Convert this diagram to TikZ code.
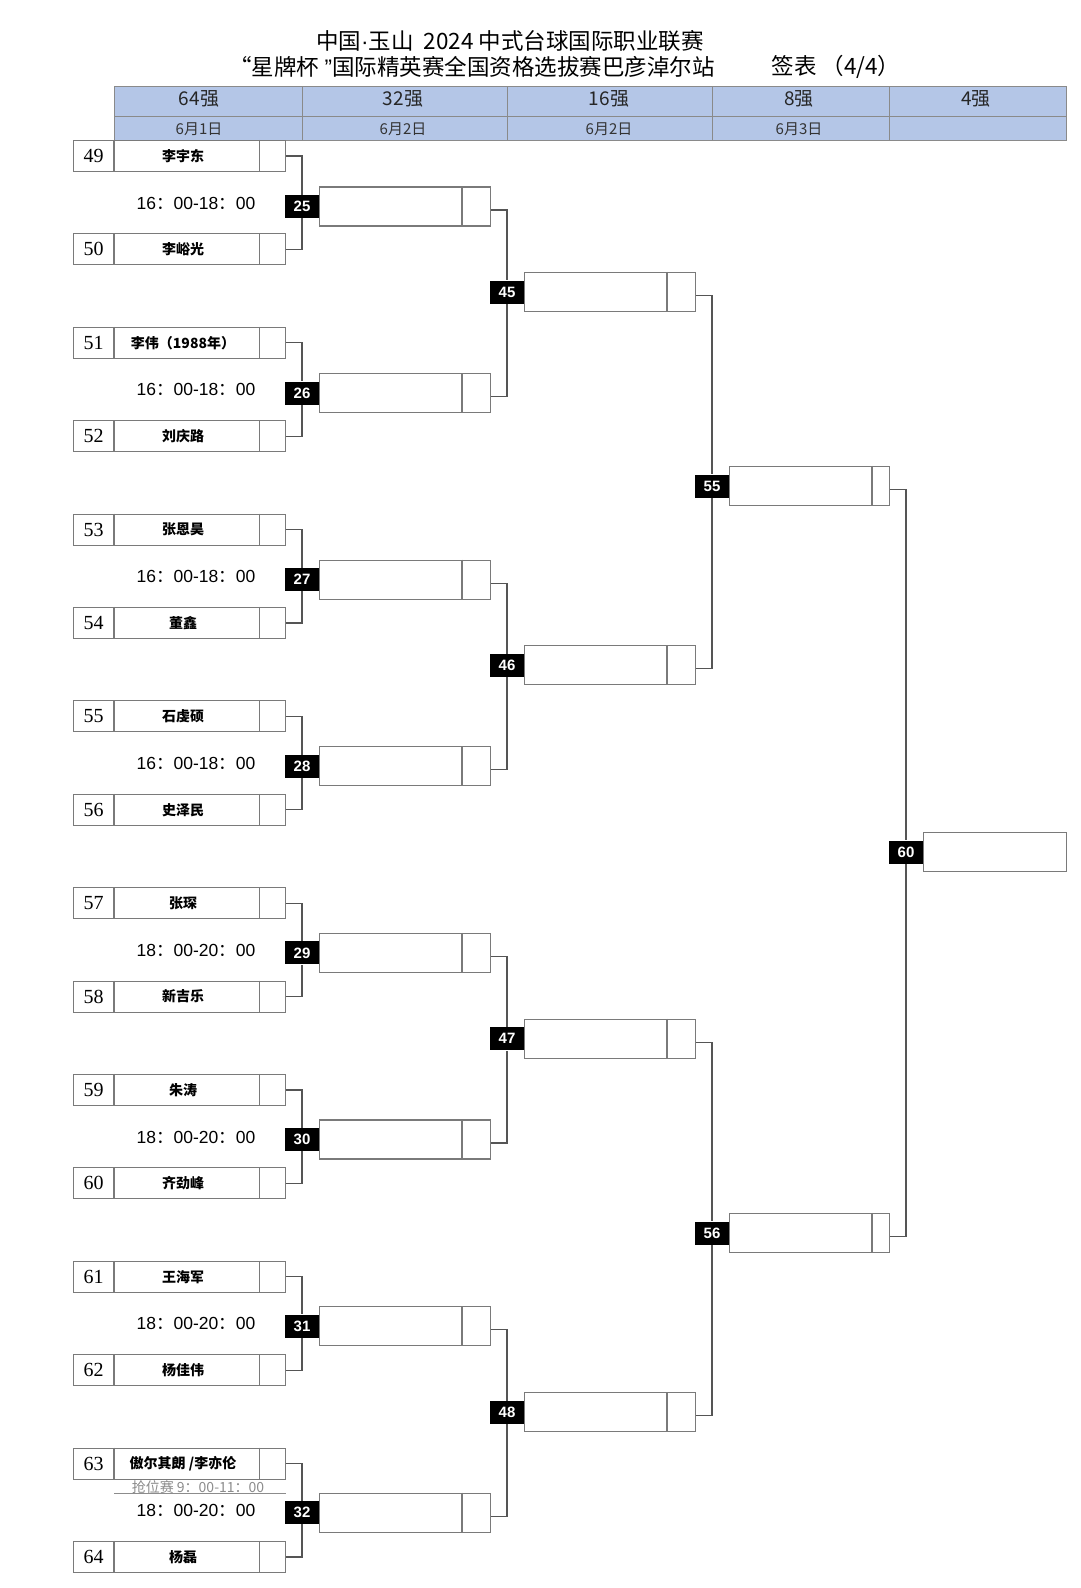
\documentclass[tikz,border=0pt]{standalone}
\usepackage{fontspec}
\setmainfont{Liberation Sans}
\newfontfamily\cjk{Noto Sans CJK SC}
\newfontfamily\numserif{Liberation Serif}
\newfontfamily\lat{Liberation Sans}
\usetikzlibrary{calc}
\definecolor{hdrblue}{HTML}{B4C6E7}
\definecolor{hdrline}{HTML}{8A8A8A}
\definecolor{boxline}{HTML}{7A7A7A}
\definecolor{connline}{HTML}{555555}
\definecolor{qwgray}{HTML}{8C8C8C}
\newcommand\fwc{{\cjk ：}}
\tikzset{
  slotbox/.style={draw=boxline, line width=1.1pt, minimum width=212pt, minimum height=31pt, inner sep=0pt, anchor=west},
  rbox/.style={draw=boxline, line width=1.1pt, minimum height=39pt, inner sep=0pt, anchor=west},
  divline/.style={draw=boxline, line width=1.1pt},
  conn/.style={draw=connline, line width=1.1pt},
  lbl/.style={fill=black, text=white, font=\bfseries\fontsize{15}{15}\selectfont, minimum width=34pt, minimum height=23pt, inner sep=0pt},
  numtxt/.style={font=\numserif\fontsize{20}{20}\selectfont, inner sep=0pt},
  nametxt/.style={font=\cjk\bfseries\fontsize{14}{14}\selectfont, inner sep=0pt},
  timetxt/.style={font=\fontsize{17.5}{17.5}\selectfont, inner sep=0pt},
  hdrtxt/.style={font=\cjk\fontsize{19}{19}\selectfont, text=black!85, inner sep=0pt},
  datetxt/.style={font=\cjk\fontsize{15}{15}\selectfont, text=black!80, inner sep=0pt},
  titletxt/.style={font=\cjk\fontsize{22.5}{22.5}\selectfont, inner sep=0pt}
}
\begin{document}
\begin{tikzpicture}[x=1pt,y=-1pt]
\useasboundingbox (0,0) rectangle (1080,1588);
\fill[white] (0,0) rectangle (1080,1588);

% title
\node[titletxt] (title1) at (510,40.5) {中国{\lat ·}玉山\ \ 2024 中式台球国际职业联赛};
\node[titletxt] (title2) at (472,67) {“星牌杯\ {\lat ”}国际精英赛全国资格选拔赛巴彦淖尔站};
\node[titletxt] (title3) at (836,67) {签表 （4/4）};

% header band
\fill[hdrblue] (114,86) rectangle (1066,140);
\draw[hdrline, line width=1pt] (114,86) rectangle (1066,140);
\draw[hdrline, line width=1pt] (114,116.5) -- (1066,116.5);
\foreach \xx in {302,507.5,712,889.5}{
  \draw[hdrline, line width=1pt] (\xx,86) -- (\xx,140);
}
\node[hdrtxt] (h64) at (199,99) {64强};
\node[hdrtxt] (h32) at (403,99) {32强};
\node[hdrtxt] (h16) at (609,99) {16强};
\node[hdrtxt] (h8) at (799,99) {8强};
\node[hdrtxt] (h4) at (976,99) {4强};
\node[datetxt] (d1) at (199,129.5) {6月1日};
\node[datetxt] (d2) at (403,129.5) {6月2日};
\node[datetxt] (d3) at (609,129.5) {6月2日};
\node[datetxt] (d4) at (799,129.5) {6月3日};

% first-round slots
\foreach \n/\nm [count=\i from 0] in {49/李宇东, 50/李峪光, 51/{李伟（1988年）}, 52/刘庆路, 53/张恩昊, 54/董鑫, 55/石虔硕, 56/史泽民, 57/张琛, 58/新吉乐, 59/朱涛, 60/齐劲峰, 61/王海军, 62/杨佳伟, 63/{傲尔其朗 /李亦伦}, 64/杨磊}{
  \pgfmathsetmacro\yy{156+93.4*\i}
  \node[slotbox] (s\n) at (73,\yy) {};
  \draw[divline] ($(s\n.north west)+(41,0)$) -- ($(s\n.south west)+(41,0)$);
  \draw[divline] ($(s\n.north east)+(-27,0)$) -- ($(s\n.south east)+(-27,0)$);
  \node[numtxt] (num\n) at (93.5,\yy) {\n};
  \node[nametxt] (nm\n) at (183,\yy) {\nm};
}

% times
\foreach \tt [count=\p from 0] in {16\fwc 00-18\fwc 00,16\fwc 00-18\fwc 00,16\fwc 00-18\fwc 00,16\fwc 00-18\fwc 00,18\fwc 00-20\fwc 00,18\fwc 00-20\fwc 00,18\fwc 00-20\fwc 00,18\fwc 00-20\fwc 00}{
  \pgfmathsetmacro\yy{203+186.8*\p}
  \node[timetxt] (t\p) at (196,\yy) {\tt};
}

% extra note under slot 63
\node[font=\cjk\fontsize{14}{14}\selectfont, text=qwgray, inner sep=0pt] (qw) at (198,1487) {抢位赛 9\fwc 00-11\fwc 00};
\draw[qwgray, line width=1pt] ($(s63.south west)+(41,14)$) -- ($(s63.south east)+(0,14)$);

% round 2 (32 -> 16)
\foreach \m [count=\k from 0] in {25,...,32}{
  \pgfmathsetmacro\yy{206.5+186.6*\k}
  \node[rbox, minimum width=171pt] (b\m) at (319,\yy) {};
  \draw[divline] ($(b\m.north west)+(143,0)$) -- ($(b\m.south west)+(143,0)$);
  \node[lbl] (l\m) at (302,\yy) {\m};
  \coordinate (o\m) at ($(b\m.east)+(0,3.5)$);
  \pgfmathtruncatemacro\sa{49+2*\k}
  \pgfmathtruncatemacro\sb{50+2*\k}
  \draw[conn] (s\sa.east) -| (l\m.north);
  \draw[conn] (s\sb.east) -| (l\m.south);
}

% round 3
\foreach \m [count=\k from 0] in {45,...,48}{
  \pgfmathsetmacro\yy{292+373.4*\k}
  \node[rbox, minimum width=171pt] (b\m) at (524,\yy) {};
  \draw[divline] ($(b\m.north west)+(143,0)$) -- ($(b\m.south west)+(143,0)$);
  \node[lbl] (l\m) at (507,\yy) {\m};
  \coordinate (o\m) at ($(b\m.east)+(0,3.5)$);
  \pgfmathtruncatemacro\sa{25+2*\k}
  \pgfmathtruncatemacro\sb{26+2*\k}
  \draw[conn] (o\sa) -| (l\m.north);
  \draw[conn] (o\sb) -| (l\m.south);
}

% round 4
\foreach \m [count=\k from 0] in {55,56}{
  \pgfmathsetmacro\yy{486+747*\k}
  \node[rbox, minimum width=160pt] (b\m) at (729,\yy) {};
  \draw[divline] ($(b\m.north west)+(143,0)$) -- ($(b\m.south west)+(143,0)$);
  \node[lbl] (l\m) at (712,\yy) {\m};
  \coordinate (o\m) at ($(b\m.east)+(0,3.5)$);
  \pgfmathtruncatemacro\sa{45+2*\k}
  \pgfmathtruncatemacro\sb{46+2*\k}
  \draw[conn] (o\sa) -| (l\m.north);
  \draw[conn] (o\sb) -| (l\m.south);
}

% round 5
\node[rbox, minimum width=143pt] (b60) at (923,852) {};
\node[lbl] (l60) at (906,852) {60};
\draw[conn] (o55) -| (l60.north);
\draw[conn] (o56) -| (l60.south);
\end{tikzpicture}
\end{document}
